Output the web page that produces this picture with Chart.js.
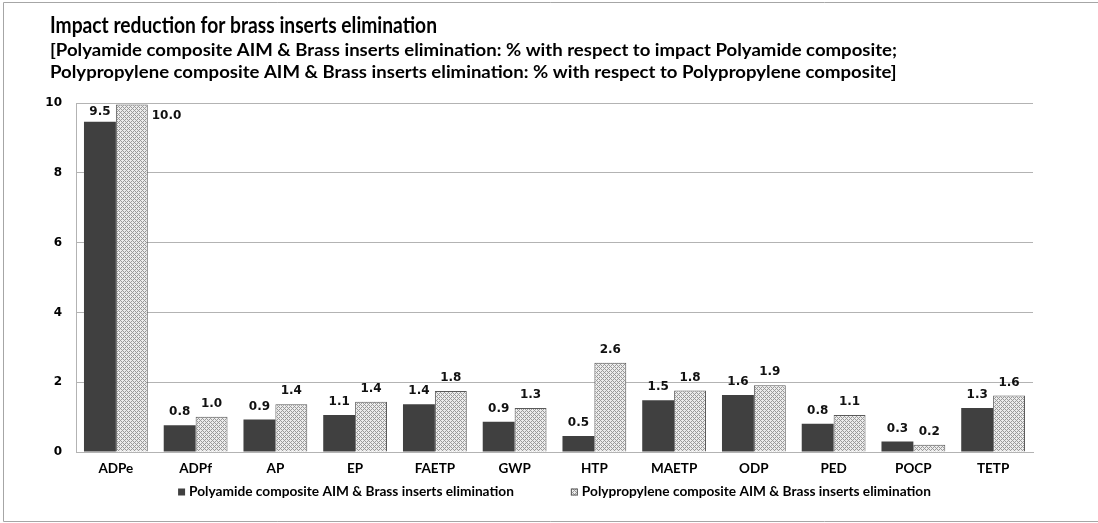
<!DOCTYPE html>
<html>
<head>
<meta charset="utf-8">
<script src="https://cdn.jsdelivr.net/npm/chart.js@4/dist/chart.umd.min.js"></script>
<style>
  html, body { margin: 0; padding: 0; background: #fff; }
  canvas { display: block; }
</style>
</head>
<body>
<canvas id="chart" width="1098" height="523"></canvas>
<script>
// chart data
const categories = ['ADPe', 'ADPf', 'AP', 'EP', 'FAETP', 'GWP', 'HTP', 'MAETP', 'ODP', 'PED', 'POCP', 'TETP'];
const polyamideValues = [9.46, 0.77, 0.93, 1.06, 1.37, 0.87, 0.46, 1.48, 1.63, 0.81, 0.30, 1.26];
const polypropyleneValues = [9.96, 1.01, 1.37, 1.44, 1.75, 1.26, 2.56, 1.76, 1.91, 1.06, 0.21, 1.62];
const seriesNames = [
    'Polyamide composite AIM & Brass inserts elimination',
    'Polypropylene composite AIM & Brass inserts elimination'
];
const yTicks = [0, 2, 4, 6, 8, 10];
const titleText = 'Impact reduction for brass inserts elimination';
const subtitleLines = [
    '[Polyamide composite AIM & Brass inserts elimination: % with respect to impact Polyamide composite;',
    'Polypropylene composite AIM & Brass inserts elimination: % with respect to Polypropylene composite]'
];

const LABEL_FONT = 'Lato, "Open Sans", sans-serif';
const NUM_FONT = '"DejaVu Sans", Verdana, sans-serif';

function makeHatch() {
    const c = document.createElement('canvas');
    c.width = 4;
    c.height = 4;
    const g = c.getContext('2d');
    g.fillStyle = '#ececec';
    g.fillRect(0, 0, 4, 4);
    g.fillStyle = '#9a9a9a';
    for (let x = 0; x < 4; x++) {
        for (let y = 0; y < 4; y++) {
            if ((x + y) % 4 === 0 || (x - y + 4) % 4 === 0) {
                g.fillRect(x, y, 1, 1);
            }
        }
    }
    return g.createPattern(c, 'repeat');
}

// draw text squeezed/stretched to a given width
function fitText(ctx, text, x, y, width) {
    const w = ctx.measureText(text).width;
    ctx.save();
    ctx.translate(x, y);
    ctx.scale(width / w, 1);
    ctx.fillText(text, 0, 0);
    ctx.restore();
}

// frame + title block
const headerPlugin = {
    id: 'header',
    beforeDraw(chart) {
        const ctx = chart.ctx;
        ctx.save();
        ctx.fillStyle = '#fff';
        ctx.fillRect(0, 0, chart.width, chart.height);
        ctx.strokeStyle = '#a6a6a6';
        ctx.lineWidth = 1;
        ctx.beginPath();
        ctx.moveTo(chart.width, 2.5);
        ctx.lineTo(3.5, 2.5);
        ctx.lineTo(3.5, 521.5);
        ctx.lineTo(chart.width, 521.5);
        ctx.stroke();

        ctx.fillStyle = '#000';
        ctx.textAlign = 'left';
        ctx.textBaseline = 'alphabetic';
        ctx.font = 'bold 23px ' + LABEL_FONT;
        fitText(ctx, titleText, 50, 33, 387);

        ctx.font = 'bold 16.5px ' + LABEL_FONT;
        const k = 847 / ctx.measureText(subtitleLines[0]).width;
        subtitleLines.forEach((line, i) => {
            fitText(ctx, line, 50, 56 + i * 21.5, ctx.measureText(line).width * k);
        });
        ctx.restore();
    }
};

// legend under the axis
const legendPlugin = {
    id: 'bottomLegend',
    afterDraw(chart) {
        const ctx = chart.ctx;
        const area = chart.chartArea;
        const box = 7;
        const gap = 4;
        const spacing = 57;
        ctx.save();
        ctx.font = 'bold 13.7px ' + LABEL_FONT;
        ctx.textBaseline = 'middle';
        ctx.textAlign = 'left';
        const widths = chart.data.datasets.map(ds => box + gap + ctx.measureText(ds.label).width);
        const total = widths.reduce((a, b) => a + b, 0) + spacing * (widths.length - 1);
        let x = (area.left + area.right) / 2 - total / 2;
        const y = 492;
        chart.data.datasets.forEach((ds, i) => {
            ctx.fillStyle = ds.backgroundColor;
            ctx.fillRect(x, y - box / 2, box, box);
            if (ds.borderWidth) {
                ctx.strokeStyle = ds.borderColor;
                ctx.lineWidth = 1;
                ctx.strokeRect(x + 0.5, y - box / 2 + 0.5, box - 1, box - 1);
            }
            ctx.fillStyle = '#000';
            ctx.fillText(ds.label, x + box + gap, y);
            x += widths[i] + spacing;
        });
        ctx.restore();
    }
};

// value labels above the bars
const valueLabels = {
    id: 'valueLabels',
    afterDatasetsDraw(chart) {
        const ctx = chart.ctx;
        const top = chart.chartArea.top;
        ctx.save();
        ctx.font = 'bold 12px ' + NUM_FONT;
        ctx.fillStyle = '#111';
        ctx.textBaseline = 'middle';
        chart.data.datasets.forEach((ds, di) => {
            const meta = chart.getDatasetMeta(di);
            meta.data.forEach((bar, i) => {
                const text = ds.data[i].toFixed(1);
                if (bar.y - top < 4) {
                    ctx.textAlign = 'left';
                    ctx.fillText(text, bar.x + bar.width / 2 + 4, bar.y + 11);
                } else {
                    ctx.textAlign = 'center';
                    const y = Math.max(bar.y - 13, top + 9);
                    ctx.fillText(text, bar.x, y);
                }
            });
        });
        ctx.restore();
    }
};

const ctx = document.getElementById('chart').getContext('2d');
const hatch = makeHatch();

new Chart(ctx, {
    type: 'bar',
    data: {
        labels: categories,
        datasets: [
            {
                label: seriesNames[0],
                data: polyamideValues,
                backgroundColor: '#404040',
                borderColor: '#404040',
                borderWidth: 0,
                categoryPercentage: 0.8,
                barPercentage: 1.0
            },
            {
                label: seriesNames[1],
                data: polypropyleneValues,
                backgroundColor: hatch,
                borderColor: '#595959',
                borderWidth: 1,
                categoryPercentage: 0.8,
                barPercentage: 1.0
            }
        ]
    },
    options: {
        responsive: false,
        animation: false,
        devicePixelRatio: 1,
        layout: {
            padding: { left: 30, right: 65, top: 103, bottom: 45 }
        },
        scales: {
            x: {
                grid: { display: false },
                border: { display: true, color: '#b3b3b3' },
                afterFit: scale => {
                    scale.height = 26;
                },
                ticks: {
                    color: '#000',
                    padding: 1,
                    font: { family: LABEL_FONT, weight: 'bold', size: 13.5 }
                }
            },
            y: {
                min: 0,
                max: 10,
                afterBuildTicks: scale => {
                    scale.ticks = yTicks.map(v => ({ value: v }));
                },
                afterFit: scale => {
                    scale.width = 46;
                },
                grid: { color: '#b3b3b3', drawTicks: false },
                border: { display: true, color: '#b3b3b3' },
                ticks: {
                    color: '#000',
                    padding: 14,
                    font: { family: NUM_FONT, weight: 'bold', size: 12 }
                }
            }
        },
        plugins: {
            title: { display: false },
            legend: { display: false },
            tooltip: { enabled: false }
        }
    },
    plugins: [headerPlugin, legendPlugin, valueLabels]
});
</script>
</body>
</html>
